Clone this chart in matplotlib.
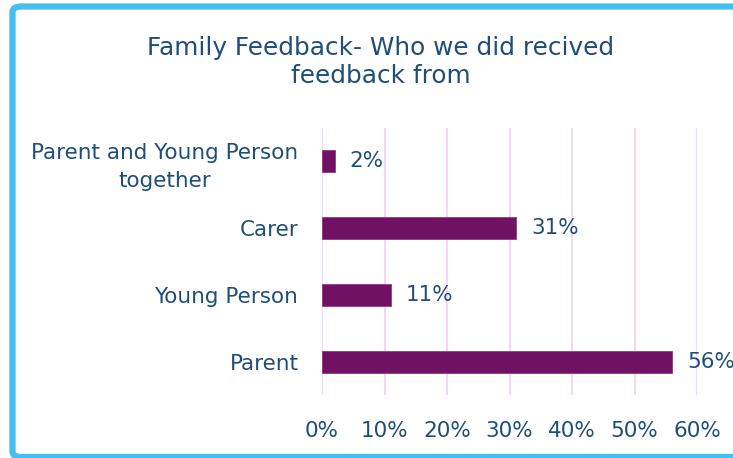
import matplotlib.pyplot as plt
from matplotlib.patches import FancyBboxPatch

# Data
categories = ['Parent', 'Young Person', 'Carer', 'Parent and Young Person\ntogether']
shares = [0.56, 0.11, 0.31, 0.02]
xticks = [0, 0.1, 0.2, 0.3, 0.4, 0.5, 0.6]
xtick_labels = ['0%', '10%', '20%', '30%', '40%', '50%', '60%']

text_color = '#1F4E79'
bar_color = '#701163'
grid_color = '#F2D9F2'
border_color = '#45BFEE'

fig = plt.figure(figsize=(7.33, 4.58), dpi=100)

# Chart border
w, h = 733, 458
border = FancyBboxPatch((12.5 / w, 1 - 457 / h), (780 - 12.5) / w, (457 - 6.5) / h,
                        boxstyle='round,pad=0,rounding_size=0.012',
                        transform=fig.transFigure, fill=False,
                        edgecolor=border_color, linewidth=4.5, clip_on=False)
fig.patches.append(border)

ax = fig.add_axes([322 / w, 1 - 395 / h, (697 - 322) / w, (395 - 128) / h])

y = range(len(categories))
ax.barh(y, shares, height=0.33, color=bar_color, edgecolor='#8A3A7E', linewidth=0.6, zorder=3)

for i, v in enumerate(shares):
    ax.annotate(f'{round(v * 100)}%', (v, i), xytext=(11, 0), textcoords='offset points',
                va='center', ha='left', fontsize=15.5, color=text_color)

ax.set_xlim(0, 0.6)
ax.set_ylim(-0.5, 3.5)
ax.set_xticks(xticks)
ax.set_xticklabels(xtick_labels)
ax.set_yticks(list(y))
ax.set_yticklabels(categories, multialignment='center', linespacing=1.45)
ax.tick_params(axis='both', length=0, labelsize=15.5, labelcolor=text_color)
ax.tick_params(axis='x', pad=19)
ax.tick_params(axis='y', pad=17)
ax.grid(axis='x', color=grid_color, linewidth=1.5, zorder=0)
for s in ax.spines.values():
    s.set_visible(False)

fig.text(381 / w, 1 - 62 / h, 'Family Feedback- Who we did recived\nfeedback from',
         ha='center', va='center', fontsize=17.8, color=text_color, linespacing=1.25)

fig.savefig('out.png', dpi=100)
